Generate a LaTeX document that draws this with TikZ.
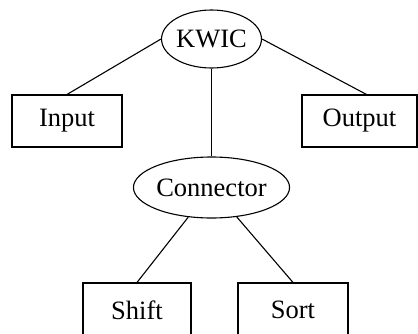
\documentclass[tikz,border=0pt]{standalone}
\usepackage{fontspec}
\setmainfont{Liberation Serif}
\usetikzlibrary{shapes.geometric}
\begin{document}
\begin{tikzpicture}[x=1pt,y=-1pt,
  every node/.style={font=\fontsize{26.5}{30}\selectfont, line width=1.1pt, draw, inner sep=0pt},
  oval/.style={ellipse},
  box/.style={rectangle},
  link/.style={line width=1.1pt}]
\useasboundingbox (0,0) rectangle (418,333);
\clip (0,0) rectangle (418,333);
\node[oval, minimum width=93pt, minimum height=58pt] (kwic) at (211.5,39) {KWIC};
\node[oval, minimum width=147pt, minimum height=61pt] (conn) at (211.5,187.5) {Connector};
\node[box, minimum width=110pt, minimum height=52pt] (input) at (67,121) {Input};
\node[box, minimum width=115pt, minimum height=52pt] (output) at (359.5,121) {Output};
\node[box, minimum width=108pt, minimum height=54pt] (shift) at (137,310) {Shift};
\node[box, minimum width=110pt, minimum height=54pt] (sort) at (293,310) {Sort};
\draw[link] (kwic.west) -- (input.north);
\draw[link] (kwic.east) -- ([xshift=7pt]output.north);
\draw[link] (kwic.south) -- (conn.north);
\draw[link] (conn) -- (shift.north);
\draw[link] (conn) -- (sort.north);
\end{tikzpicture}
\end{document}
